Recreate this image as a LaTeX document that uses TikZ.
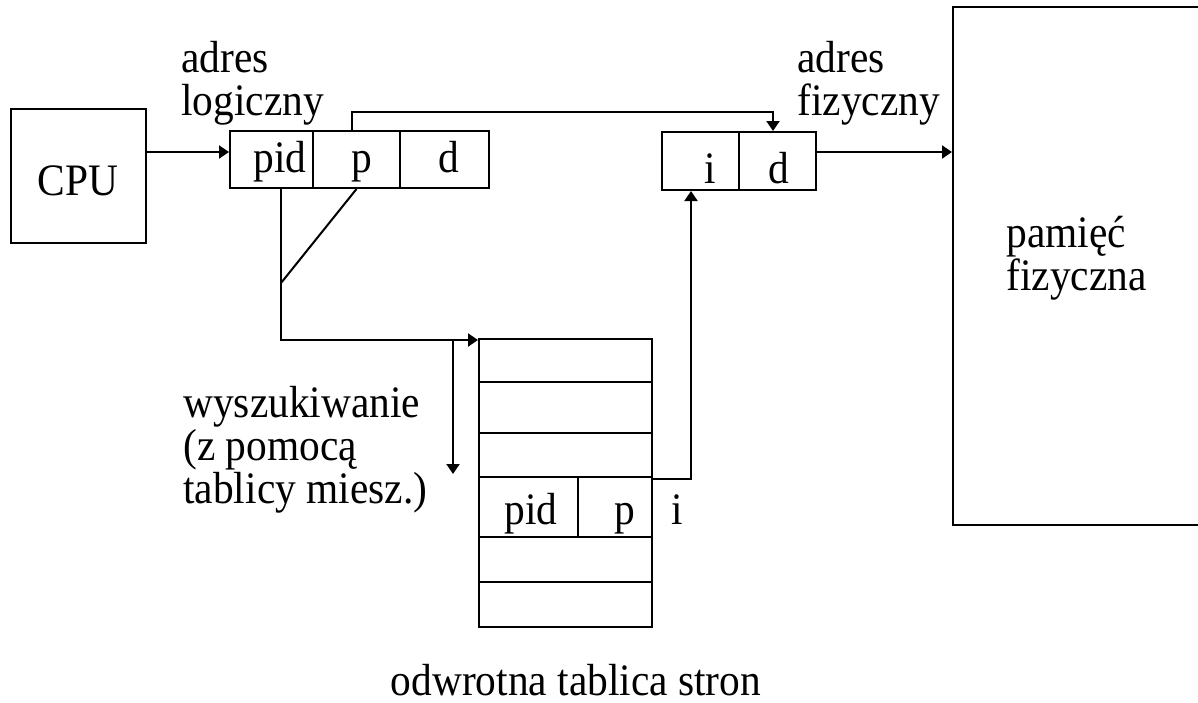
\documentclass[tikz,border=0pt]{standalone}
\usepackage{fontspec}
\setmainfont[FakeStretch=0.92]{Liberation Serif}
\usetikzlibrary{fit,arrows.meta}
\begin{document}
\begin{tikzpicture}[x=0.5pt,y=-0.5pt,
  box/.style={draw,line width=1pt,inner sep=0pt,rectangle},
  arr/.style={line width=1pt,-{Triangle[length=5pt,width=6.5pt]}},
  plain/.style={line width=1pt},
  lbl/.style={inner sep=0pt,font=\fontsize{22.5pt}{21.5pt}\selectfont},
  ml/.style={lbl,align=left,anchor=base west}]
\useasboundingbox (0,0) rectangle (1198,702);
\clip (0,0) rectangle (1198,702);
% boxes
\node[box,fit={(11,109)(146,243)}] (cpu) {};
\node[box,fit={(230,131)(313,188)}] (la1) {};
\node[box,fit={(313,131)(400,188)}] (la2) {};
\node[box,fit={(400,131)(489,188)}] (la3) {};
\node[box,fit={(662,132)(739,190)}] (pa1) {};
\node[box,fit={(739,132)(816,190)}] (pa2) {};
\node[box,fit={(953,7)(1215,525)}] (mem) {};
\node[box,fit={(479,339)(652,382)}] (r1) {};
\node[box,fit={(479,382)(652,433)}] (r2) {};
\node[box,fit={(479,433)(652,477)}] (r3) {};
\node[box,fit={(479,477)(578,537)}] (r4a) {};
\node[box,fit={(578,477)(652,537)}] (r4b) {};
\node[box,fit={(479,537)(652,582)}] (r5) {};
\node[box,fit={(479,582)(652,627)}] (r6) {};
% texts
\node[lbl,anchor=base] (tcpu) at (78,195) {CPU};
\node[lbl,anchor=base] (tpid) at (280,172) {pid};
\node[lbl,anchor=base] (tp) at (362,172) {p};
\node[lbl,anchor=base] (td) at (449,172) {d};
\node[lbl,anchor=base] (ti) at (710,183) {i};
\node[lbl,anchor=base] (td2) at (779,183) {d};
\node[lbl,anchor=base] (tpid2) at (531,524) {pid};
\node[lbl,anchor=base] (tp2) at (625,524) {p};
\node[lbl,anchor=base] (ti2) at (677,524) {i};
\node[ml] (tlog) at (181,115) {adres\\logiczny};
\node[ml] (tfiz) at (797,115) {adres\\fizyczny};
\node[ml] (twys) at (183,503) {wyszukiwanie\\(z pomocą\\tablicy miesz.)};
\node[ml] (tmem) at (1006,290) {pamięć\\fizyczna};
\node[lbl,anchor=base] (ttab) at (576,695) {odwrotna tablica stron};
% connectors
\coordinate (cpuin) at ([yshift=3.75pt]la1.west);
\draw[arr] (cpu.east |- cpuin) -- (cpuin);
\draw[arr] ([xshift=-2.25pt]la2.north) -- ++(0,-18) -| ([xshift=-2.25pt]pa2.north);
\coordinate (j) at (281,283);
\draw[arr] ([xshift=4.75pt]la1.south) |- ([yshift=-1pt]r1.north west);
\draw[plain] (la2.south) -- (j);
\coordinate (s1) at (453,341);
\coordinate (s2) at (453,474);
\draw[arr] (s1) -- (s2);
\draw[arr] ([yshift=-1.5pt]r4b.north east) -| ([xshift=-4.75pt]pa1.south);
\coordinate (pout) at ([yshift=4.5pt]pa2.east);
\draw[arr] (pout) -- (pout -| mem.west);
\end{tikzpicture}
\end{document}
